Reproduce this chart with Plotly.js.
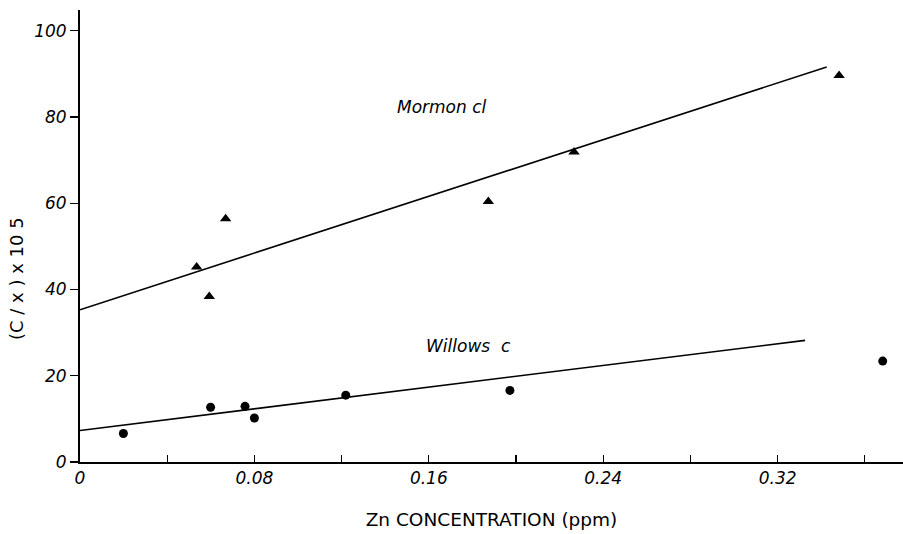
<!DOCTYPE html>
<html>
<head>
<meta charset="utf-8">
<script src="https://cdn.plot.ly/plotly-3.0.1.min.js"></script>
<style>html,body{margin:0;padding:0;background:#fff;}#chart{width:903px;height:534px;}</style>
</head>
<body>
<div id="chart"></div>
<script>
// Mormon cl (triangles)
const mormonX = [0.0535, 0.0593, 0.0668, 0.1873, 0.2266, 0.3482];
const mormonY = [45.2, 38.4, 56.4, 60.4, 71.9, 89.6];
const mormonFitX = [0, 0.3425];
const mormonFitY = [35.3, 91.6];
// Willows c (circles)
const willowsX = [0.0199, 0.0599, 0.0757, 0.0800, 0.1219, 0.1972, 0.3682];
const willowsY = [6.6, 12.7, 12.9, 10.2, 15.5, 16.6, 23.4];
const willowsFitX = [0, 0.3326];
const willowsFitY = [7.3, 28.2];
// Axis ticks
const xTickVals = [0, 0.04, 0.08, 0.12, 0.16, 0.20, 0.24, 0.28, 0.32, 0.36];
const xTickText = ['0', '', '0.08', '', '0.16', '', '0.24', '', '0.32', ''];
const yTickVals = [0, 20, 40, 60, 80, 100];
const yTickText = ['0', '20', '40', '60', '80', '100'];
// Titles and series labels
const xTitle = 'Zn CONCENTRATION (ppm)';
const yTitle = '(C / x ) x 10 5';
const seriesLabels = ['Mormon\u00a0cl', 'Willows\u00a0\u00a0c'];
const labelX = [0.166, 0.178];
const labelY = [82.4, 27.0];

const FONT = 'DejaVu Sans, Liberation Sans, sans-serif';

const traces = [
  {x: mormonFitX, y: mormonFitY, mode: 'lines', line: {color: '#000', width: 1.6}, hoverinfo: 'skip'},
  {x: willowsFitX, y: willowsFitY, mode: 'lines', line: {color: '#000', width: 1.6}, hoverinfo: 'skip'},
  {x: mormonX, y: mormonY, mode: 'markers', marker: {symbol: 'triangle-up', size: 10, color: '#000'}},
  {x: willowsX, y: willowsY, mode: 'markers', marker: {symbol: 'circle', size: 9, color: '#000'}}
];

const annotations = seriesLabels.map((t, i) => ({
  x: labelX[i], y: labelY[i], xref: 'x', yref: 'y', text: t, showarrow: false,
  font: {size: 17, family: FONT, style: 'italic'}
}));
annotations.push({
  x: -0.0778, y: 0.407, xref: 'paper', yref: 'paper', text: yTitle, showarrow: false,
  textangle: -90, xanchor: 'center', yanchor: 'middle',
  font: {size: 18, family: FONT}
});

const layout = {
  width: 903, height: 534,
  margin: {l: 80, r: 0, t: 10, b: 72},
  paper_bgcolor: '#fff', plot_bgcolor: '#fff',
  showlegend: false,
  font: {family: FONT, color: '#000'},
  xaxis: {
    range: [0, 0.3775],
    tickvals: xTickVals, ticktext: xTickText,
    ticks: 'inside', ticklen: 7, tickwidth: 1.2, tickcolor: '#000',
    showgrid: false, zeroline: false,
    showline: true, linewidth: 2, linecolor: '#000',
    tickfont: {size: 17, family: FONT, style: 'italic'},
    title: {text: xTitle, font: {size: 18.5, family: FONT}, standoff: 26}
  },
  yaxis: {
    range: [0, 104.8],
    tickvals: yTickVals, ticktext: yTickText,
    ticks: 'outside', ticklen: 8, tickwidth: 1.2, tickcolor: '#000',
    showgrid: false, zeroline: false,
    showline: true, linewidth: 2, linecolor: '#000',
    tickfont: {size: 17, family: FONT, style: 'italic'}
  },
  annotations: annotations
};

Plotly.newPlot('chart', traces, layout, {displayModeBar: false, staticPlot: true});
</script>
</body>
</html>
